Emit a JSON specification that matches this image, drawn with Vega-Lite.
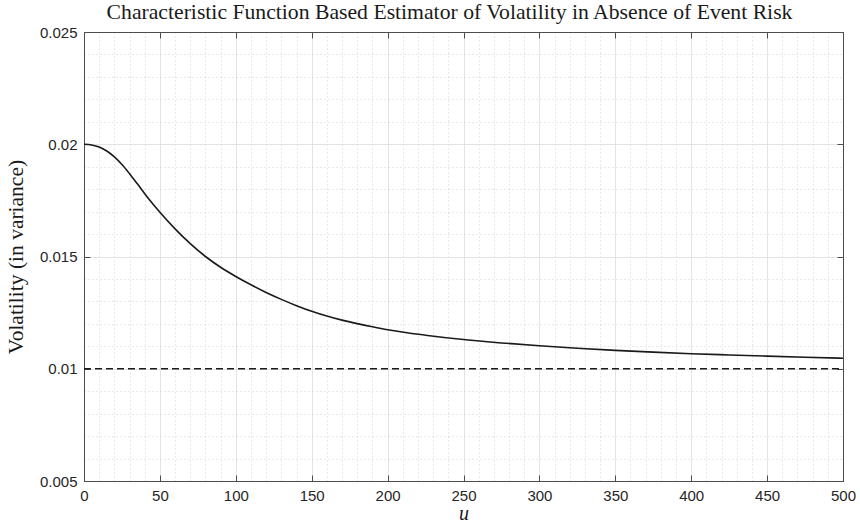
{
  "$schema": "https://vega.github.io/schema/vega-lite/v6.json",
  "autosize": {"type": "none"},
  "padding": {"left": 84, "top": 32, "right": 17, "bottom": 43},
  "width": 759,
  "height": 449,
  "background": "white",
  "config": {
    "view": {"stroke": null}
  },
  "title": {
    "text": "Characteristic Function Based Estimator of Volatility in Absence of Event Risk",
    "font": "Liberation Serif",
    "fontSize": 21.7,
    "fontWeight": "normal",
    "color": "#1a1a1a",
    "anchor": "middle",
    "offset": 1,
    "dx": -14
  },
  "datasets": {
    "curve": [
      {"u": 0, "v": 0.02000},
      {"u": 5, "v": 0.01997},
      {"u": 10, "v": 0.01988},
      {"u": 15, "v": 0.01970},
      {"u": 20, "v": 0.01944},
      {"u": 25, "v": 0.01910},
      {"u": 30, "v": 0.01869},
      {"u": 35, "v": 0.01825},
      {"u": 40, "v": 0.01780},
      {"u": 45, "v": 0.01737},
      {"u": 50, "v": 0.01697},
      {"u": 60, "v": 0.01623},
      {"u": 70, "v": 0.01557},
      {"u": 80, "v": 0.01500},
      {"u": 90, "v": 0.01452},
      {"u": 100, "v": 0.01411},
      {"u": 110, "v": 0.01374},
      {"u": 120, "v": 0.01340},
      {"u": 130, "v": 0.01309},
      {"u": 140, "v": 0.01281},
      {"u": 150, "v": 0.01256},
      {"u": 160, "v": 0.012345},
      {"u": 170, "v": 0.012165},
      {"u": 180, "v": 0.01201},
      {"u": 190, "v": 0.01187},
      {"u": 200, "v": 0.01174},
      {"u": 225, "v": 0.011495},
      {"u": 250, "v": 0.01130},
      {"u": 275, "v": 0.01115},
      {"u": 300, "v": 0.011025},
      {"u": 325, "v": 0.010915},
      {"u": 350, "v": 0.01082},
      {"u": 375, "v": 0.01074},
      {"u": 400, "v": 0.01067},
      {"u": 425, "v": 0.010615},
      {"u": 450, "v": 0.010563},
      {"u": 475, "v": 0.010515},
      {"u": 500, "v": 0.01047}
    ],
    "ref": [{"v": 0.01}]
  },
  "layer": [
    {
      "data": {"name": "curve"},
      "mark": {"type": "line", "color": "#1a1a1a", "strokeWidth": 1.6, "interpolate": "monotone", "clip": true},
      "encoding": {
        "x": {
          "field": "u", "type": "quantitative",
          "scale": {"domain": [0, 500], "nice": false},
          "axis": {
            "orient": "bottom",
            "title": "u",
            "titleFont": "Liberation Serif",
            "titleFontStyle": "italic",
            "titleFontWeight": "normal",
            "titleFontSize": 20,
            "titleColor": "#1a1a1a",
            "titlePadding": 0,
            "values": [0,10,20,30,40,50,60,70,80,90,100,110,120,130,140,150,160,170,180,190,200,210,220,230,240,250,260,270,280,290,300,310,320,330,340,350,360,370,380,390,400,410,420,430,440,450,460,470,480,490,500],
            "labelExpr": "datum.value % 50 === 0 ? datum.label : ''",
            "labelFont": "Liberation Sans",
            "labelFontSize": 15,
            "labelColor": "#262626",
            "labelPadding": 13,
            "labelFlush": false,
            "labelOverlap": false,
            "domainColor": "#4d4d4d",
            "domainWidth": 1,
            "tickColor": "#4d4d4d",
            "tickSize": -6,
            "tickOpacity": {"condition": {"test": "datum.value % 50 === 0", "value": 1}, "value": 0},
            "grid": true,
            "gridColor": {"condition": {"test": "datum.value % 50 === 0", "value": "#e3e3e3"}, "value": "#d0d0d0"},
            "gridDash": {"condition": {"test": "datum.value % 50 === 0", "value": []}, "value": [1, 3]},
            "gridWidth": 1
          }
        },
        "y": {
          "field": "v", "type": "quantitative",
          "scale": {"domain": [0.005, 0.025], "nice": false, "zero": false},
          "axis": {
            "orient": "left",
            "title": "Volatility (in variance)",
            "titleFont": "Liberation Serif",
            "titleFontWeight": "normal",
            "titleFontSize": 21.5,
            "titleColor": "#1a1a1a",
            "titlePadding": 12,
            "values": [0.005,0.006,0.007,0.008,0.009,0.01,0.011,0.012,0.013,0.014,0.015,0.016,0.017,0.018,0.019,0.02,0.021,0.022,0.023,0.024,0.025],
            "labelExpr": "round(datum.value*1000) % 5 === 0 ? '' + datum.value : ''",
            "labelFont": "Liberation Sans",
            "labelFontSize": 15,
            "labelColor": "#262626",
            "labelPadding": 13,
            "labelFlush": false,
            "labelOverlap": false,
            "domainColor": "#4d4d4d",
            "domainWidth": 1,
            "tickColor": "#4d4d4d",
            "tickSize": -6,
            "tickOpacity": {"condition": {"test": "round(datum.value*1000) % 5 === 0", "value": 1}, "value": 0},
            "grid": true,
            "gridColor": {"condition": {"test": "round(datum.value*1000) % 5 === 0", "value": "#e3e3e3"}, "value": "#d0d0d0"},
            "gridDash": {"condition": {"test": "round(datum.value*1000) % 5 === 0", "value": []}, "value": [1, 3]},
            "gridWidth": 1
          }
        }
      }
    },
    {
      "data": {"name": "ref"},
      "mark": {"type": "rule", "color": "#1a1a1a", "strokeWidth": 1.6, "strokeDash": [7, 4]},
      "encoding": {
        "y": {
          "field": "v", "type": "quantitative",
          "axis": {
            "orient": "right",
            "title": null,
            "values": [0.005, 0.01, 0.015, 0.02, 0.025],
            "labels": false,
            "domainColor": "#4d4d4d",
            "domainWidth": 1,
            "tickColor": "#4d4d4d",
            "tickSize": -6,
            "grid": false
          }
        },
        "x": {
          "datum": 0, "type": "quantitative",
          "axis": {
            "orient": "top",
            "title": null,
            "values": [0,50,100,150,200,250,300,350,400,450,500],
            "labels": false,
            "domainColor": "#4d4d4d",
            "domainWidth": 1,
            "tickColor": "#4d4d4d",
            "tickSize": -6,
            "grid": false
          }
        },
        "x2": {"datum": 500}
      }
    }
  ],
  "resolve": {"axis": {"x": "independent", "y": "independent"}}
}
